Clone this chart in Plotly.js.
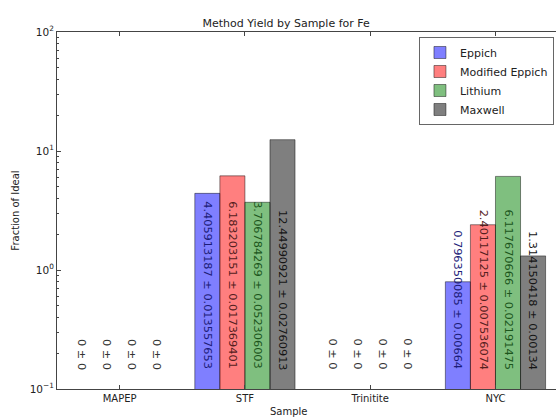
<!DOCTYPE html>
<html>
<head>
<meta charset="utf-8">
<script src="https://cdn.plot.ly/plotly-3.0.1.min.js"></script>
<style>
html, body { margin: 0; padding: 0; overflow: hidden; background: #fff; }
#chart { width: 560px; height: 420px; }
</style>
</head>
<body>
<div id="chart"></div>
<script>
// ---- data ----
var samples = ["MAPEP", "STF", "Trinitite", "NYC"];
var methods = ["Eppich", "Modified Eppich", "Lithium", "Maxwell"];
var eppich = [0, 4.405913187, 0, 0.796350085];
var eppichErr = [0, 0.013557653, 0, 0.00664];
var modEppich = [0, 6.183203151, 0, 2.40117125];
var modEppichErr = [0, 0.017369401, 0, 0.007536074];
var lithium = [0, 3.706784269, 0, 6.117670666];
var lithiumErr = [0, 0.052306003, 0, 0.02191475];
var maxwell = [0, 12.44990921, 0, 1.314150418];
var maxwellErr = [0, 0.02760913, 0, 0.00134];
var yTickVals = [0.1, 1, 10, 100];
var yTickText = ["10<sup>\u22121</sup>", "10<sup>0</sup>", "10<sup>1</sup>", "10<sup>2</sup>"];

// ---- styles ----
var values = [eppich, modEppich, lithium, maxwell];
var errors = [eppichErr, modEppichErr, lithiumErr, maxwellErr];
var fills = ["rgba(0,0,255,0.5)", "rgba(255,0,0,0.5)", "rgba(0,128,0,0.5)", "rgba(0,0,0,0.5)"];
var textColors = ["#1c1c78", "#552020", "#1c561c", "#151515"];
var barW = 0.2;
var idx = samples.map(function (_, i) { return i; });

var traces = [];
var annotations = [];
methods.forEach(function (m, k) {
  var off = -0.4 + k * barW;
  traces.push({
    type: "bar",
    name: m,
    x: idx,
    y: values[k],
    width: barW,
    offset: off,
    marker: { color: fills[k], line: { color: "rgba(0,0,0,0.45)", width: 1 } },
    hoverinfo: "skip"
  });
  idx.forEach(function (i) {
    var v = values[k][i];
    annotations.push({
      x: i + off + barW / 2,
      y: Math.log10(0.14),
      xref: "x", yref: "y",
      text: String(v) + " \u00b1 " + String(errors[k][i]),
      textangle: 90,
      showarrow: false,
      xanchor: "center",
      yanchor: "bottom",
      font: { family: "DejaVu Sans", size: 11.3, color: v === 0 ? "#333" : textColors[k] }
    });
  });
});

annotations.push({
  text: "Sample", xref: "paper", yref: "paper", x: 0.462, y: -0.042,
  xanchor: "center", yanchor: "top", showarrow: false,
  font: { family: "DejaVu Sans", size: 10, color: "#222" }
});

var layout = {
  width: 560, height: 420,
  margin: { l: 57, r: 0, t: 32, b: 31 },
  paper_bgcolor: "#fff", plot_bgcolor: "#fff",
  font: { family: "DejaVu Sans", size: 10, color: "#222" },
  title: { text: "Method Yield by Sample for Fe", x: 0.511, xanchor: "center", xref: "container",
           y: 0.945, yanchor: "middle", font: { size: 11, color: "#222" } },
  barmode: "overlay",
  showlegend: true,
  legend: {
    x: 0.988, xanchor: "right", y: 0.986, yanchor: "top",
    bgcolor: "#fff", bordercolor: "#666", borderwidth: 1,
    font: { size: 11, color: "#222" }, itemwidth: 30
  },
  xaxis: {
    range: [-0.5, 3.515],
    tickmode: "array", tickvals: idx, ticktext: samples,
    ticks: "inside", ticklen: 4, tickcolor: "#444",
    showline: true, linecolor: "#444", linewidth: 1, mirror: "ticks",
    showgrid: false, zeroline: false,
    tickfont: { size: 10, color: "#222" }
  },
  yaxis: {
    type: "log",
    range: [-1, 2],
    tickmode: "array", tickvals: yTickVals, ticktext: yTickText,
    ticks: "inside", ticklen: 4, tickcolor: "#444",
    minor: { ticks: "inside", ticklen: 2, tickcolor: "#444", dtick: "D1", showgrid: false },
    showline: true, linecolor: "#444", linewidth: 1, mirror: "ticks",
    showgrid: false, zeroline: false,
    tickfont: { size: 10.5, color: "#222" },
    title: { text: "Fraction of Ideal", font: { size: 10, color: "#222" }, standoff: 8 }
  },
  annotations: annotations
};

Plotly.newPlot("chart", traces, layout, { displayModeBar: false, staticPlot: true });
</script>
</body>
</html>
